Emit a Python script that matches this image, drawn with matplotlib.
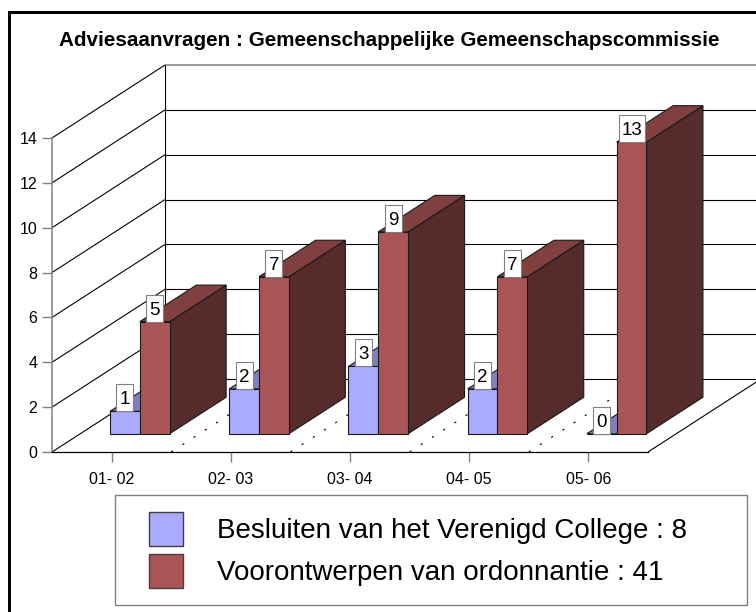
import matplotlib
matplotlib.use("Agg")
import matplotlib.pyplot as plt
from matplotlib.patches import Polygon, Rectangle
from matplotlib.legend_handler import HandlerPatch

plt.rcParams['font.family'] = ['Liberation Sans', 'DejaVu Sans']

title = "Adviesaanvragen : Gemeenschappelijke Gemeenschapscommissie"
categories = ["01- 02", "02- 03", "03- 04", "04- 05", "05- 06"]
besluiten = [1, 2, 3, 2, 0]
voorontwerpen = [5, 7, 9, 7, 13]
legend_labels = ["Besluiten van het Verenigd College : 8",
                 "Voorontwerpen van ordonnantie : 41"]
y_ticks = list(range(0, 15, 2))

W, H = 756, 612
L, R, B, T = 52, 648, 452, 138
YMAX = 14
fig = plt.figure(figsize=(W / 100, H / 100), dpi=100, facecolor='white')
ax = fig.add_axes([L / W, 1 - B / H, (R - L) / W, (B - T) / H])
ax.set_xlim(0, len(categories))
ax.set_ylim(0, YMAX)
ax.patch.set_visible(False)

px_x = (R - L) / len(categories)
px_y = (B - T) / YMAX
DX = 113 / px_x   # full depth, x in category units
DY = 73 / px_y    # full depth, y in value units


def proj(x, y, d):
    return (x + d * DX, y + d * DY)


GRID = dict(color='black', lw=0.8, clip_on=False, solid_capstyle='butt')
XEND = len(categories) + DX
# back wall and side wall grid
for v in range(0, YMAX + 1, 2):
    col = '#808080' if v == YMAX else 'black'
    ax.plot([proj(0, v, 1)[0], XEND], [proj(0, v, 1)[1]] * 2, zorder=1,
            **{**GRID, 'color': col, 'lw': 1.1 if v == YMAX else 0.8})
    ax.plot([0, DX], [v, v + DY], zorder=1, **GRID)
ax.plot([DX, DX], [DY, YMAX + DY], zorder=1, **GRID)
# right floor edge
ax.plot([len(categories), XEND], [0, DY], zorder=1, **GRID)
# dashed floor lines at category boundaries
for i in range(1, len(categories)):
    ax.plot([i, i + DX], [0, DY], color='black', lw=0.8, zorder=1,
            linestyle=(0, (2.0, 10.0)), clip_on=False)

BAR_W = 0.25
D0, D1 = 0.25, 0.75
C_BLUE = ('#AAAAFF', '#8080BF', '#55557F')
C_RED = ('#AA5555', '#804040', '#552B2B')
EDGE = '#1a1a1a'
z = 2


def bar3d(x0, value, colors):
    global z
    x1 = x0 + BAR_W
    fx0, fy0 = proj(x0, 0, D0)
    fx1, _ = proj(x1, 0, D0)
    ftop = value + fy0
    side = [proj(x1, 0, D0), proj(x1, 0, D1), proj(x1, value, D1), proj(x1, value, D0)]
    top = [proj(x0, value, D0), proj(x1, value, D0), proj(x1, value, D1), proj(x0, value, D1)]
    ax.add_patch(Polygon(side, closed=True, fc=colors[2], ec=EDGE, lw=0.8, zorder=z, clip_on=False))
    ax.add_patch(Polygon(top, closed=True, fc=colors[1], ec=EDGE, lw=0.8, zorder=z, clip_on=False))
    z += 1
    ax.bar(fx0, value, width=BAR_W, bottom=fy0, align='edge', color=colors[0],
           edgecolor=EDGE, linewidth=0.8, zorder=z, clip_on=False)
    z += 1
    return (fx0 + fx1) / 2, ftop


label_specs = []
for i in range(len(categories)):
    x = i + 0.5 - BAR_W
    label_specs.append(bar3d(x, besluiten[i], C_BLUE) + (besluiten[i],))
    label_specs.append(bar3d(x + BAR_W, voorontwerpen[i], C_RED) + (voorontwerpen[i],))

# value labels: white boxes sitting on the top of the front face
for cx, ytop, val in label_specs:
    s = str(val)
    w = (8 + 9 * len(s)) / px_x
    h = 27 / px_y
    ax.add_patch(Rectangle((cx - w / 2, ytop), w, h, fc='white', ec='#808080', lw=0.8,
                           zorder=50, clip_on=False))
    ax.text(cx, ytop + h / 2, s, ha='center', va='center_baseline', fontsize=13.5,
            color='black', zorder=51)

# axes
ax.set_xticks([i + 0.5 for i in range(len(categories))], categories)
ax.set_yticks(y_ticks)
ax.tick_params(axis='x', length=7.2, width=1, color='#808080', labelsize=11.5, pad=7)
ax.tick_params(axis='y', length=7.2, width=1, color='#808080', labelsize=11.5, pad=3.5)
for s in ('top', 'right'):
    ax.spines[s].set_visible(False)
ax.spines['left'].set_color('#808080')
ax.spines['left'].set_linewidth(1.1)
ax.spines['bottom'].set_color('black')
ax.spines['bottom'].set_linewidth(0.9)
ax.spines['bottom'].set_zorder(40)

fig.text(389.5 / W, 1 - 40 / H, title, ha='center', va='center', fontsize=14.85,
         fontweight='bold', color='black')

# black frame, open on the right and at the bottom
frame_c = 'black'
fig.add_artist(Rectangle((8 / W, 0), 3 / W, 1 - 11 / H, transform=fig.transFigure,
                         fc=frame_c, ec='none'))
fig.add_artist(Rectangle((8 / W, 1 - 14 / H), 1 - 8 / W, 3 / H, transform=fig.transFigure,
                         fc=frame_c, ec='none'))


# legend
def swatch(legend, orig_handle, xdescent, ydescent, width, height, fontsize):
    return Rectangle((width - 24.5 - xdescent, -ydescent), 24.5, height)


handles = [Rectangle((0, 0), 1, 1, fc=C_BLUE[0], ec='#404040', lw=1),
           Rectangle((0, 0), 1, 1, fc=C_RED[0], ec='#404040', lw=1)]
leg = ax.legend(handles, legend_labels, loc='upper left',
                bbox_to_anchor=(115 / W, 1 - 495 / H, (747 - 115) / W, 0),
                bbox_transform=fig.transFigure, mode='expand', fontsize=20,
                frameon=True, fancybox=False, edgecolor='#808080', framealpha=1,
                borderaxespad=0, borderpad=0.61, handlelength=1.84, handleheight=1.51,
                handletextpad=1.225, labelspacing=0.29,
                handler_map={Rectangle: HandlerPatch(patch_func=swatch)})
leg.get_frame().set_linewidth(1)
leg.set_zorder(60)

fig.savefig("out.png", dpi=100, facecolor='white')
